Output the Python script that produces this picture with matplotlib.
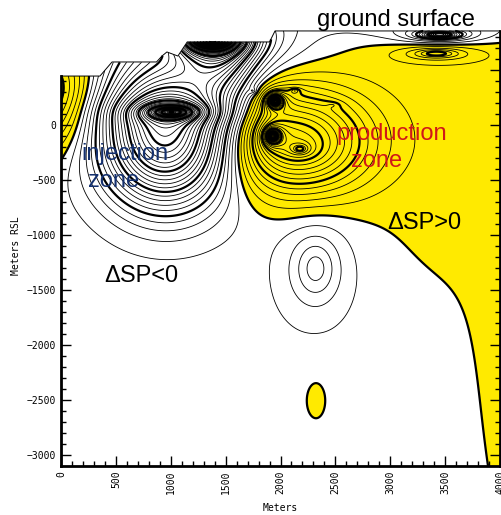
import numpy as np
import matplotlib
matplotlib.use("Agg")
import matplotlib.pyplot as plt
from matplotlib.ticker import MultipleLocator

plt.rcParams['contour.negative_linestyle'] = 'solid'

# ground surface profile (meters, meters RSL)
topo_x = [0, 355, 465, 870, 920, 965, 1065, 1150, 1900, 1950, 4000]
topo_z = [445, 445, 573, 573, 627, 664, 627, 755, 755, 855, 855]

# broad SP anomalies (gaussian): centre, amplitude, spread
bg_offset = -0.2
bg_x = [960, 2150, 3300, 4300, 3350, 1450, -150]
bg_z = [-80, -150, 300, -2000, 900, 650, 300]
bg_amp = [-20, 11, 1.05, 0.9, -1.3, -8, 8]
bg_sx = [400, 440, 1100, 300, 600, 220, 320]
bg_sz = [440, 320, 1200, 1300, 70, 250, 350]

# compact SP sources (lorentzian): centre, amplitude, spread
src_x = [1010, 1380, 1950, 1930, 2178, 2132, 2478, 3450, 3420, 2320, 2323, 1750]
src_z = [118, 790, 218, -100, -218, 310, 182, 820, 650, -1300, -2490, 310]
src_amp = [-22, -60, 22, 22, 5, 3, 1.2, -15, 6, -4.6, 1.2, -2]
src_sx = [160, 150, 45, 45, 70, 35, 60, 150, 200, 215, 65, 25]
src_sz = [45, 70, 40, 45, 40, 20, 25, 30, 40, 305, 125, 20]


def field(X, Z):
    F = np.full(np.shape(X), bg_offset, dtype=float)
    for xi, zi, a, sx, sz in zip(bg_x, bg_z, bg_amp, bg_sx, bg_sz):
        F += a * np.exp(-0.5 * (((X - xi) / sx) ** 2 + ((Z - zi) / sz) ** 2))
    for xi, zi, a, sx, sz in zip(src_x, src_z, src_amp, src_sx, src_sz):
        F += a / (1 + ((X - xi) / sx) ** 2 + ((Z - zi) / sz) ** 2)
    return F


x = np.linspace(0, 4000, 801)
z = np.linspace(-3100, 900, 801)
X, Z = np.meshgrid(x, z)
F = field(X, Z)
surf = np.interp(x, topo_x, topo_z)
F = np.ma.masked_where(Z > surf[None, :], F)

fig = plt.figure(figsize=(5.01, 5.15), dpi=100)
ax = fig.add_axes([61 / 501, 49 / 515, 439 / 501, 440 / 515])

ax.contourf(X, Z, F, levels=[0, 1e6], colors=['#ffea00'])
thin = [k for k in range(-80, 81) if k % 5 != 0]
thick = [k for k in range(-80, 81, 5)]
ax.contour(X, Z, F, levels=thin, colors='k', linewidths=0.6)
ax.contour(X, Z, F, levels=thick, colors='k', linewidths=1.6)
ax.plot(topo_x, topo_z, color='k', lw=0.7)

ax.set_xlim(0, 4000)
ax.set_ylim(-3100, 900)
ax.spines['top'].set_visible(False)
for s in ['left', 'right', 'bottom']:
    ax.spines[s].set_linewidth(2)
ax.spines['left'].set_bounds(-3100, topo_z[0])
ax.spines['right'].set_bounds(-3100, topo_z[-1])

ax.xaxis.set_major_locator(MultipleLocator(500))
ax.xaxis.set_minor_locator(MultipleLocator(100))
ax.set_yticks(np.arange(-3000, 1, 500))
ax.set_yticks(np.arange(-3000, 401, 100), minor=True)
ax.tick_params(which='both', direction='in', right=False, top=False, width=1)
ax.tick_params(which='major', length=7)
ax.tick_params(which='minor', length=3.5)
ax.tick_params(axis='x', labelrotation=90, labelsize=7)
ax.tick_params(axis='y', labelsize=7)
for t in ax.get_xticklabels() + ax.get_yticklabels():
    t.set_family('DejaVu Sans Mono')
ax.set_xlabel('Meters', family='DejaVu Sans Mono', fontsize=7, labelpad=6)
ax.set_ylabel('Meters RSL', family='DejaVu Sans Mono', fontsize=7)

# right-hand ticks run up to the ground surface
tw = ax.twinx()
tw.set_ylim(ax.get_ylim())
for s in tw.spines.values():
    s.set_visible(False)
tw.set_yticks(np.arange(-3000, 501, 500))
tw.set_yticks(np.arange(-3000, 801, 100), minor=True)
tw.tick_params(which='both', direction='in', labelright=False, width=1)
tw.tick_params(which='major', length=7)
tw.tick_params(which='minor', length=3.5)

def label(px, py, s, c='k'):
    fig.text(px / 501, 1 - py / 515, s, color=c, fontsize=17, family='Liberation Sans', va='baseline')

label(317, 26, 'ground surface')
label(81, 160, 'injection', '#14306e')
label(88, 187, 'zone', '#14306e')
label(336, 140, 'production', '#d01818')
label(351, 167, 'zone', '#d01818')
label(387, 229, 'ΔSP>0')
label(104, 282, 'ΔSP<0')

fig.savefig('out.png', dpi=100)
